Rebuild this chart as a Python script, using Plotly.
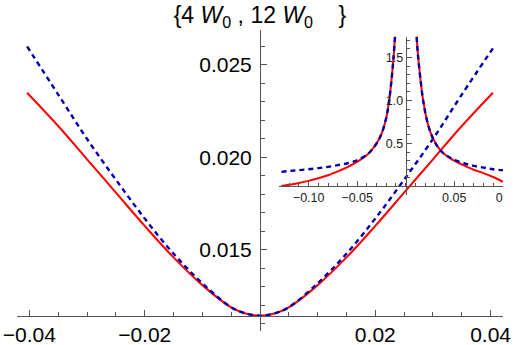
import plotly.graph_objects as go

# main panel: two V-shaped curves
x_main = [-0.0404, -0.035, -0.03, -0.025, -0.02, -0.015, -0.01, -0.005, -0.0025, 0,
          0.0025, 0.005, 0.01, 0.015, 0.02, 0.025, 0.03, 0.035, 0.0404]
red_main = [0.0235, 0.0217, 0.0199, 0.0181, 0.0163, 0.0146, 0.0131, 0.0119, 0.01157, 0.01145,
            0.01157, 0.0119, 0.0131, 0.0146, 0.0163, 0.0181, 0.0199, 0.0217, 0.0235]
blue_main = [0.0260, 0.0234, 0.0210, 0.0188, 0.0167, 0.0148, 0.0132, 0.0119, 0.01157, 0.01145,
             0.01157, 0.0119, 0.0132, 0.0148, 0.0167, 0.0188, 0.0210, 0.0234, 0.0259]

# inset: left branch and right branch
x_in_left = [-0.128, -0.12, -0.11, -0.10, -0.09, -0.08, -0.07, -0.06, -0.05, -0.04,
             -0.035, -0.03, -0.025, -0.02, -0.017, -0.0145, -0.0125, -0.011]
red_in_left = [0.005, 0.02, 0.04, 0.065, 0.095, 0.13, 0.175, 0.225, 0.285, 0.365,
               0.425, 0.50, 0.61, 0.80, 1.0, 1.25, 1.5, 1.74]
blue_in_left = [0.17, 0.18, 0.19, 0.20, 0.213, 0.228, 0.248, 0.27, 0.305, 0.37,
                0.425, 0.50, 0.61, 0.80, 1.0, 1.25, 1.5, 1.74]

x_in_right = [0.0113, 0.0125, 0.0147, 0.018, 0.023, 0.0285, 0.035, 0.04, 0.045,
              0.05, 0.06, 0.07, 0.08, 0.09, 0.1003]
red_in_right = [1.74, 1.55, 1.30, 1.0, 0.72, 0.55, 0.43, 0.375, 0.335,
                0.30, 0.245, 0.195, 0.155, 0.11, 0.055]
blue_in_right = [1.74, 1.55, 1.30, 1.0, 0.72, 0.55, 0.43, 0.375, 0.34,
                 0.31, 0.27, 0.24, 0.22, 0.20, 0.19]

main_x_ticks = [-0.04, -0.02, 0.02, 0.04]
main_x_labels = ["\u22120.04", "\u22120.02", "0.02", "0.04"]
main_y_ticks = [0.015, 0.020, 0.025]
main_y_labels = ["0.015", "0.020", "0.025"]
in_x_ticks = [-0.10, -0.05, 0.05, 0.10]
in_x_labels = ["\u22120.10", "\u22120.05", "0.05", "0\u00a0\u00a0"]
in_y_ticks = [0.5, 1.0, 1.5]
in_y_labels = ["0.5", "1.0", "1.5"]

RED = "#ff0000"
BLUE = "#0000aa"
AX = "#555555"
FONT = "Liberation Sans, Arial, sans-serif"
NB = "\u00a0"

xr = [-0.04215, 0.04215]
yr = [0.01062, 0.02689]
y0 = min(red_main)

ixr = [-0.1306, 0.1003]
iyr = [-0.099, 1.742]
inset_dom_x = [0.539, 1.0]
inset_dom_y = [0.4518, 0.978]

fig = go.Figure()
fig.add_trace(go.Scatter(x=x_main, y=red_main, mode="lines", line=dict(color=RED, width=2, shape="spline"),
                         xaxis="x", yaxis="y"))
fig.add_trace(go.Scatter(x=x_main, y=blue_main, mode="lines",
                         line=dict(color=BLUE, width=2.4, dash="5px,4px", shape="spline"),
                         xaxis="x", yaxis="y"))
for xs, ys, col, dash, w in [(x_in_left, red_in_left, RED, "solid", 2),
                             (x_in_right, red_in_right, RED, "solid", 2),
                             (x_in_left, blue_in_left, BLUE, "5px,4px", 2.4),
                             (x_in_right, blue_in_right, BLUE, "5px,4px", 2.4)]:
    fig.add_trace(go.Scatter(x=xs, y=ys, mode="lines", line=dict(color=col, width=w, dash=dash, shape="spline"),
                             xaxis="x2", yaxis="y2"))

axis_common = dict(showgrid=False, zeroline=False, showline=True, linecolor=AX, linewidth=1,
                   ticks="inside", tickcolor=AX, tickwidth=1, automargin=False)

minor_x = [round(-0.04 + 0.005 * i, 4) for i in range(17)]
minor_y = [round(0.011 + 0.001 * i, 4) for i in range(16)]
minor_ix = [round(-0.13 + 0.01 * i, 3) for i in range(24)]
minor_iy = [round(0.1 * i, 2) for i in range(18)]

title_text = ("{4" + NB + "<i>W</i><sub>0</sub>" + NB + "," + NB + "12" + NB
              + "<i>W</i><sub>0</sub>" + NB * 4 + "}")

fig.update_layout(
    width=515, height=345, autosize=False,
    margin=dict(l=17, r=12, t=30, b=14),
    paper_bgcolor="white", plot_bgcolor="rgba(0,0,0,0)",
    showlegend=False,
    font=dict(family=FONT, color="black"),
    title=dict(text=title_text,
               x=0.5, xref="paper", xanchor="center",
               y=1 - 15 / 345, yref="container", yanchor="middle",
               font=dict(size=23, family=FONT, color="black")),
    xaxis=dict(domain=[0, 1], range=xr, anchor="free",
               position=(y0 - yr[0]) / (yr[1] - yr[0]),
               tickmode="array", tickvals=main_x_ticks, ticktext=main_x_labels, ticklen=6,
               tickfont=dict(size=21, color="black"),
               minor=dict(tickmode="array", tickvals=minor_x, ticks="inside", ticklen=4, tickcolor=AX),
               **axis_common),
    yaxis=dict(domain=[0, 1], range=yr, anchor="free",
               position=(0 - xr[0]) / (xr[1] - xr[0]),
               tickmode="array", tickvals=main_y_ticks, ticktext=main_y_labels, ticklen=6,
               ticklabelstandoff=4,
               tickfont=dict(size=21, color="black"),
               minor=dict(tickmode="array", tickvals=minor_y, ticks="inside", ticklen=4, tickcolor=AX),
               **axis_common),
    xaxis2=dict(domain=inset_dom_x, range=ixr, anchor="free",
                position=inset_dom_y[0] + (0 - iyr[0]) / (iyr[1] - iyr[0]) * (inset_dom_y[1] - inset_dom_y[0]),
                tickmode="array", tickvals=in_x_ticks, ticktext=in_x_labels, ticklen=5,
                tickfont=dict(size=12.5, color="#222222"),
                minor=dict(tickmode="array", tickvals=minor_ix, ticks="inside", ticklen=3, tickcolor=AX),
                **axis_common),
    yaxis2=dict(domain=inset_dom_y, range=iyr, anchor="free",
                position=inset_dom_x[0] + (0 - ixr[0]) / (ixr[1] - ixr[0]) * (inset_dom_x[1] - inset_dom_x[0]),
                tickmode="array", tickvals=in_y_ticks, ticktext=in_y_labels, ticklen=5,
                tickfont=dict(size=12.5, color="#222222"),
                minor=dict(tickmode="array", tickvals=minor_iy, ticks="inside", ticklen=3, tickcolor=AX),
                **axis_common),
)

# the page body has a default 8px margin; drop it so the figure sits at the window corner
fig.write_html("out.html", config={"displayModeBar": False},
               post_script="document.body.style.margin='0';")
